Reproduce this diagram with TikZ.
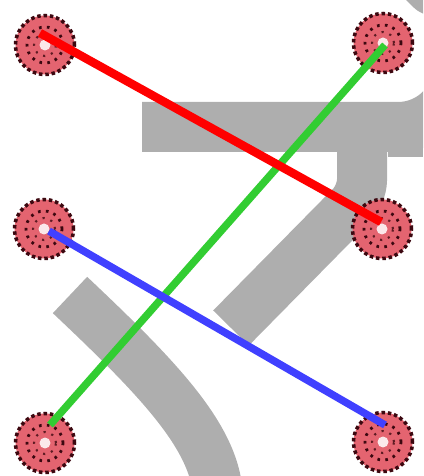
\documentclass[tikz,border=0pt]{standalone}
\usetikzlibrary{calc}
\definecolor{glyphgray}{RGB}{174,174,174}
\definecolor{dotpink}{RGB}{228,100,112}
\definecolor{dotdark}{RGB}{60,8,16}
\definecolor{linered}{RGB}{255,0,0}
\definecolor{linegreen}{RGB}{50,205,50}
\definecolor{lineblue}{RGB}{64,64,255}
\begin{document}
\begin{tikzpicture}[x=0.02cm, y=0.02cm,
  dot/.style={circle, inner sep=0pt, minimum size=1.18cm, fill=dotpink, draw=dotdark,
    line width=2pt, dash pattern=on 2pt off 1.6pt,
    path picture={\draw[dotdark, line width=1.6pt, dash pattern=on 1.5pt off 3pt]
      (path picture bounding box.center) circle (0.36cm);
      \draw[dotdark!80!dotpink, line width=1.2pt, dash pattern=on 1.2pt off 3.5pt]
      (path picture bounding box.center) circle (0.22cm);
      \fill[white!85!dotpink] (path picture bounding box.center) circle (0.11cm);}},
  stroke/.style={glyphgray, line width=1cm},
  link/.style={line width=0.15cm}]
  \useasboundingbox (0,0) rectangle (423,476);
  \clip (0,0) rectangle (423,476);
  \draw[stroke] (142,349) -- (398,349) arc[start angle=-90, end angle=-20, radius=60];
  \fill[glyphgray] (388,330) rectangle (423,319);
  \draw[stroke, rounded corners=0.3cm] (362,349) -- (362,281) -- (231,148);
  \draw[stroke] (70,181) .. controls (160,96) and (218,36) .. (218,-24);
  \fill[glyphgray] (406,476) -- (430,476) -- (430,460) .. controls (418,464) .. cycle;
  \node[dot] (L1) at (45,431) {};
  \node[dot] (R1) at (383,433) {};
  \node[dot] (L2) at (44,247) {};
  \node[dot] (R2) at (382,247) {};
  \node[dot] (L3) at (45,33) {};
  \node[dot] (R3) at (383,34) {};
  \draw[link, linegreen] ($(R1.center)+(2,-2)$) -- ($(L3.center)+(5,18)$);
  \draw[link, linered, line width=0.17cm] ($(L1.center)+(-5,12)$) -- ($(R2.center)+(-1,7)$);
  \draw[link, lineblue] ($(L2.center)+(5,-2)$) -- ($(R3.center)+(2,17)$);
\end{tikzpicture}
\end{document}
